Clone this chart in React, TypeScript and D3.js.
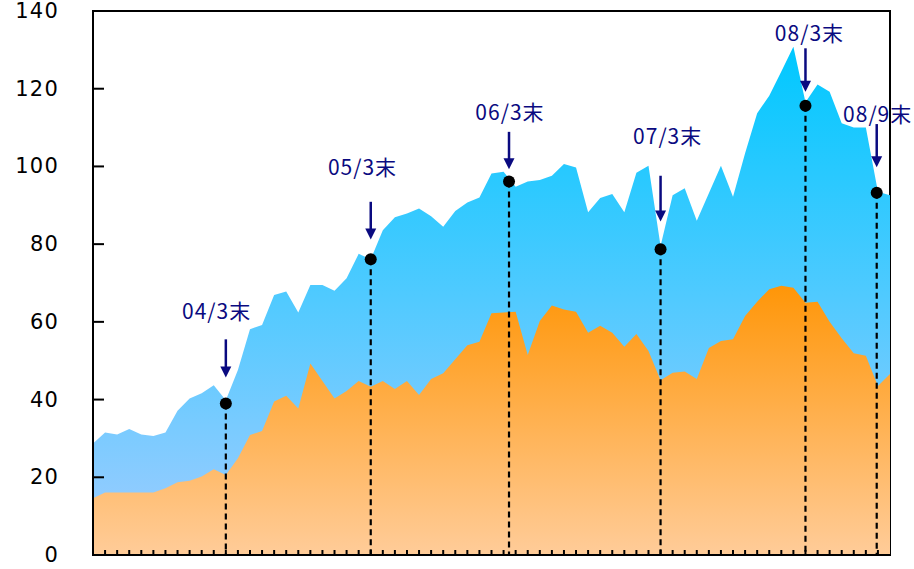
import React from 'react';
import * as d3 from 'd3';

// monthly categories, Apr 2003 .. Oct 2008
const months = d3.timeMonths(new Date(2003, 3, 1), new Date(2008, 10, 1));

// upper (total) series
const totalValues = [
  28.7, 31.5, 31.0, 32.4, 31.0, 30.6, 31.5, 37.1, 40.3, 41.6, 43.7, 39.8,
  47.6, 58.1, 59.2, 66.9, 67.8, 62.4, 69.5, 69.5, 68.0, 71.2, 77.5, 76.1,
  83.6, 86.9, 87.9, 89.2, 87.2, 84.5, 88.5, 90.7, 92.0, 98.2, 98.6, 94.8,
  96.1, 96.5, 97.6, 100.6, 99.7, 88.2, 91.9, 92.9, 88.2, 98.4, 100.2, 79.5,
  92.6, 94.4, 86.0, 93.1, 100.2, 92.2, 103.4, 113.7, 118.2, 124.4, 130.8, 116.5,
  121.1, 119.2, 111.1, 110.0, 110.0, 93.5, 92.6,
];

// lower series
const lowerValues = [
  14.6, 16.1, 16.1, 16.1, 16.1, 16.1, 17.2, 18.7, 19.1, 20.2, 22.1, 20.6,
  24.9, 30.9, 31.9, 39.5, 41.0, 37.7, 49.3, 44.8, 40.3, 42.2, 44.8, 43.3,
  44.8, 42.7, 44.8, 41.2, 45.3, 46.8, 50.4, 54.0, 54.9, 62.2, 62.4, 62.6,
  51.5, 60.2, 64.2, 63.2, 62.6, 57.2, 59.0, 57.2, 53.6, 56.9, 52.5, 45.0,
  46.9, 47.2, 45.3, 53.3, 55.1, 55.5, 61.5, 65.2, 68.4, 69.3, 68.8, 64.9,
  65.2, 60.0, 55.8, 51.9, 51.3, 43.5, 46.6,
];

const yTicks = [0, 20, 40, 60, 80, 100, 120, 140];

// annotations (month index, value at the dot, arrow span, label position)
const annoLabels = ['04/3末', '05/3末', '06/3末', '07/3末', '08/3末', '08/9末'];
const annoAt = [11, 23, 34.45, 47, 59, 64.9];
const annoValues = [39, 76.1, 96.1, 78.7, 115.6, 93.2];
const annoArrowFrom = [55.5, 90.9, 108.9, 97.6, 130.4, 110.9];
const annoArrowTo = [45.7, 81.2, 99.3, 85.8, 119.2, 99.8];
const annoLabelAt = [10.24, 22.32, 34.53, 47.59, 59.33, 64.98];
const annoLabelValue = [63.0, 100.0, 114.3, 108.2, 134.7, 113.7];

const W = 914;
const H = 569;
const left = 93;
const right = 890;
const top = 11;
const bottom = 555;

export default function App() {
  const x = d3.scaleLinear().domain([0, months.length - 1]).range([left, right]);
  const y = d3.scaleLinear().domain([0, 140]).range([bottom, top]);

  const area = d3.area<number>()
    .x((_, i) => x(i))
    .y0(y(0))
    .y1(d => y(d));

  const navy = '#0A0A80';

  return (
    <svg width={W} height={H} style={{ position: 'absolute', left: 0, top: 0, background: '#fff' }}>
      <defs>
        <linearGradient id="blueGrad" x1="0" y1="0" x2="0" y2="1">
          <stop offset="0%" stopColor="#00C8FF" />
          <stop offset="100%" stopColor="#A2CCFF" />
        </linearGradient>
        <linearGradient id="orangeGrad" x1="0" y1="0" x2="0" y2="1">
          <stop offset="0%" stopColor="#FF9608" />
          <stop offset="100%" stopColor="#FFCC99" />
        </linearGradient>
      </defs>

      {/* plot frame, sits under the areas */}
      <rect x={left} y={top} width={right - left} height={bottom - top} fill="none" stroke="#000" strokeWidth={2} />

      <path d={area(totalValues) || ''} fill="url(#blueGrad)" />
      <path d={area(lowerValues) || ''} fill="url(#orangeGrad)" />

      {/* axes */}
      <line x1={left} x2={left} y1={top} y2={bottom + 1} stroke="#000" strokeWidth={2} />
      <line x1={left} x2={right} y1={bottom} y2={bottom} stroke="#000" strokeWidth={2} />
      {yTicks.map(t => (
        <g key={t}>
          <line x1={left} x2={left + 11} y1={y(t)} y2={y(t)} stroke="#000" strokeWidth={2} />
          <text
            x={59}
            y={y(t)}
            textAnchor="end"
            dominantBaseline="central"
            fontFamily="DejaVu Sans, sans-serif"
            fontSize={21}
            letterSpacing={1.2}
            fill="#000"
          >
            {t}
          </text>
        </g>
      ))}
      {months.map((_, i) => (
        i > 0 && i < months.length - 1 ? (
          <line key={i} x1={x(i)} x2={x(i)} y1={bottom} y2={bottom - 5} stroke="#000" strokeWidth={2} />
        ) : null
      ))}

      {/* annotations */}
      {annoLabels.map((lab, i) => {
        const ax = x(annoAt[i]);
        const yFrom = y(annoArrowFrom[i]);
        const yTo = y(annoArrowTo[i]);
        return (
          <g key={lab}>
            <line
              x1={ax}
              x2={ax}
              y1={y(annoValues[i])}
              y2={bottom}
              stroke="#000"
              strokeWidth={2.2}
              strokeDasharray="6,4"
            />
            <circle cx={ax} cy={y(annoValues[i])} r={6} fill="#000" />
            <line x1={ax} x2={ax} y1={yFrom} y2={yTo - 8} stroke={navy} strokeWidth={2.5} />
            <path d={`M${ax - 5.5},${yTo - 11}L${ax + 5.5},${yTo - 11}L${ax},${yTo}Z`} fill={navy} />
            <text
              x={x(annoLabelAt[i])}
              y={y(annoLabelValue[i])}
              textAnchor="middle"
              dominantBaseline="central"
              fontFamily="'Noto Sans CJK JP', sans-serif"
              fontSize={21}
              letterSpacing={1}
              fill={navy}
            >
              {lab}
            </text>
          </g>
        );
      })}
    </svg>
  );
}
